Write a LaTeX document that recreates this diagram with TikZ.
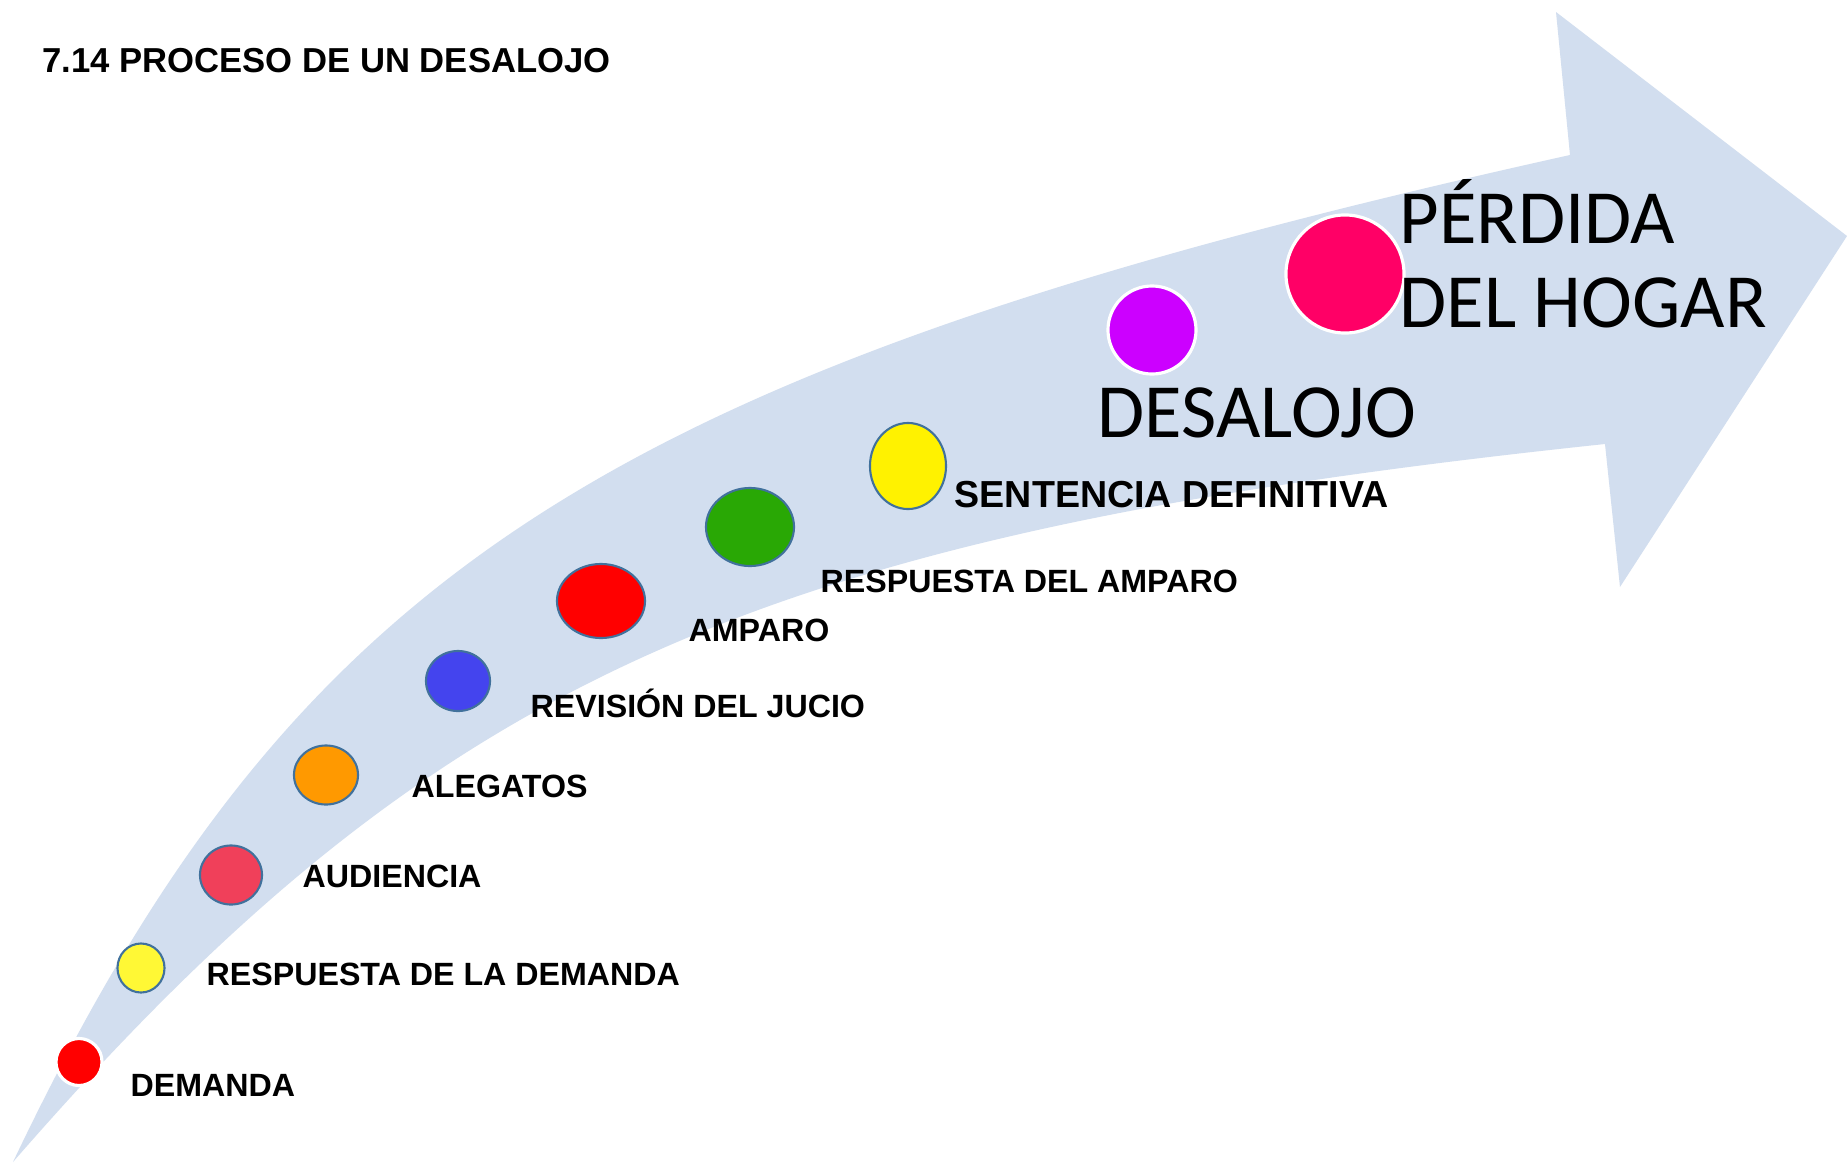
\documentclass[tikz,border=0pt]{standalone}
\usepackage{fontspec}
\setmainfont{Liberation Sans}
\newfontfamily\calibri{Carlito}
\usepackage{tikz}
\usepackage{xcolor}
\usetikzlibrary{shapes.geometric}
\definecolor{BandBlue}{HTML}{D2DEEF}
\definecolor{RimBlue}{HTML}{41719C}
\definecolor{DotYellow}{HTML}{FFF835}
\definecolor{DotRose}{HTML}{F0405A}
\definecolor{DotOrange}{HTML}{FF9900}
\definecolor{DotBlue}{HTML}{4444EE}
\definecolor{DotGreen}{HTML}{29A805}
\definecolor{DotViolet}{HTML}{CC00FF}
\definecolor{DotPink}{HTML}{FF0066}

\begin{document}
\begin{tikzpicture}[x=0.01cm, y=-0.01cm,
        band/.style={fill=BandBlue},
        dot/.style={ellipse, draw=RimBlue, line width=0.6pt, inner sep=0pt},
        whitedot/.style={ellipse, draw=white, line width=0.9pt, inner sep=0pt},
        stage/.style={anchor=base west, inner sep=0pt, font=\fontsize{9.15}{11}\selectfont\bfseries},
        bigstage/.style={anchor=base west, inner sep=0pt, font=\fontsize{21.8}{25}\selectfont\calibri}
    ]

    \path[use as bounding box, fill=white] (0,0) rectangle (1847,1163);

    % curved arrow
    \fill[band] (13,1162) .. controls (295,570) and (606,369) .. (1570,155)
        -- (1556,12) -- (1847,236) -- (1620,587) -- (1605,444)
        .. controls (753,534) and (435,677) .. (13,1162) -- cycle;

    \node[anchor=base west, inner sep=0pt, font=\fontsize{9.85}{11}\selectfont\bfseries] (title) at (42,72) {7.14 PROCESO DE UN DESALOJO};

    \node[whitedot, fill=red, minimum width=0.46cm, minimum height=0.47cm] (demanda) at (79,1062) {};
    \node[stage] (demandatext) at (130,1096) {DEMANDA};

    \node[dot, fill=DotYellow, minimum width=0.47cm, minimum height=0.49cm] (respuesta) at (141,968) {};
    \node[stage] (respuestatext) at (206,985) {RESPUESTA DE LA DEMANDA};

    \node[dot, fill=DotRose, minimum width=0.62cm, minimum height=0.59cm] (audiencia) at (231,875) {};
    \node[stage] (audienciatext) at (302,887) {AUDIENCIA};

    \node[dot, fill=DotOrange, minimum width=0.64cm, minimum height=0.59cm] (alegatos) at (326,775) {};
    \node[stage] (alegatostext) at (411,797) {ALEGATOS};

    \node[dot, fill=DotBlue, minimum width=0.64cm, minimum height=0.60cm] (revision) at (458,681) {};
    \node[stage] (revisiontext) at (530,717) {REVISIÓN DEL JUCIO};

    \node[dot, fill=red, minimum width=0.88cm, minimum height=0.74cm] (amparo) at (601,601) {};
    \node[stage] (amparotext) at (688,641) {AMPARO};

    \node[dot, fill=DotGreen, minimum width=0.88cm, minimum height=0.78cm] (respamparo) at (750,527) {};
    \node[stage] (respamparotext) at (820,592) {RESPUESTA DEL AMPARO};

    \node[dot, fill=yellow, minimum width=0.76cm, minimum height=0.86cm] (sentencia) at (908,466) {};
    \node[stage, font=\fontsize{10.7}{12}\selectfont\bfseries] (sentenciatext) at (954,507) {SENTENCIA DEFINITIVA};

    \node[whitedot, fill=DotViolet, minimum width=0.88cm, minimum height=0.88cm] (desalojo) at (1152,330) {};
    \node[bigstage] (desalojotext) at (1097,437) {DESALOJO};

    \node[whitedot, fill=DotPink, minimum width=1.18cm, minimum height=1.18cm] (perdida) at (1345,274) {};
    \node[bigstage] (perdidatext) at (1399,243) {PÉRDIDA};
    \node[bigstage] (hogartext) at (1399,327) {DEL HOGAR};

\end{tikzpicture}
\end{document}
